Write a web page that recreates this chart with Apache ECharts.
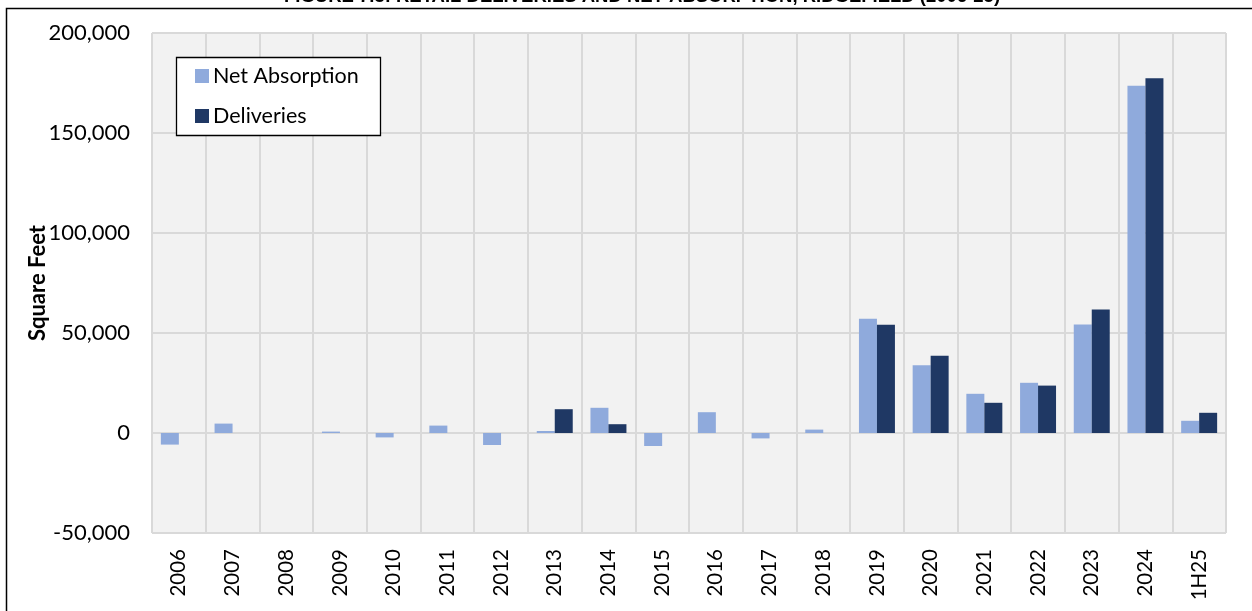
<!DOCTYPE html>
<html>
<head>
<meta charset="utf-8">
<script src="https://cdn.jsdelivr.net/npm/echarts@6/dist/echarts.min.js"></script>
<style>
html,body{margin:0;padding:0;background:#fff;}
#chart{width:1252px;height:611px;}
</style>
</head>
<body>
<div id="chart"></div>
<script>
const titleText = 'FIGURE 7.3: RETAIL DELIVERIES AND NET ABSORPTION, RIDGEFIELD (2006-25)';
const yAxisTitle = 'Square Feet';
const categories = ['2006','2007','2008','2009','2010','2011','2012','2013','2014','2015','2016','2017','2018','2019','2020','2021','2022','2023','2024','1H25'];
const netAbsorption = [-5800, 4700, 0, 700, -2200, 3700, -6000, 1000, 12600, -6500, 10400, -2700, 1700, 57100, 33900, 19600, 25100, 54200, 173600, 6100];
const deliveries = [0, 0, 0, 0, 0, 0, 0, 11900, 4400, 0, 0, 0, 0, 54100, 38600, 15100, 23700, 61700, 177400, 10100];
const yTicks = {min: -50000, max: 200000, interval: 50000};

const FONT = 'Lato, "Liberation Sans", sans-serif';
const chart = echarts.init(document.getElementById('chart'), null, {renderer: 'canvas'});
chart.setOption({
  animation: false,
  backgroundColor: '#ffffff',
  graphic: [
    {type: 'rect', silent: true, shape: {x: 6.5, y: 8.5, width: 1300, height: 700},
      style: {fill: 'none', stroke: '#000', lineWidth: 1.5}, z: 0},
    {type: 'text', silent: true, x: 642, y: 6,
      style: {text: titleText, fill: '#000', font: 'bold 18.5px "Liberation Sans", Arial, sans-serif',
        textAlign: 'center', textVerticalAlign: 'bottom'}},
    {type: 'text', silent: true, x: 38, y: 283, rotation: Math.PI / 2,
      style: {text: yAxisTitle, fill: '#000', font: 'bold 22px Lato, "Liberation Sans", sans-serif',
        textAlign: 'center', textVerticalAlign: 'middle'}},
    {type: 'rect', silent: true, shape: {x: 176.5, y: 57.5, width: 204, height: 78},
      style: {fill: '#fff', stroke: '#000', lineWidth: 1.3}, z: 5}
  ],
  grid: {left: 152, right: 26, top: 33, bottom: 78, show: true, backgroundColor: '#f2f2f2', borderWidth: 0},
  legend: {
    orient: 'vertical', left: 195, top: 65, padding: 0, itemGap: 18,
    itemWidth: 14, itemHeight: 14, icon: 'rect', z: 10,
    textStyle: {fontFamily: FONT, fontSize: 21.5, color: '#000', lineHeight: 22, padding: [0, 0, 0, -1]},
    data: ['Net Absorption', 'Deliveries']
  },
  xAxis: {
    type: 'category', data: categories, boundaryGap: true,
    axisLine: {show: false}, axisTick: {show: false},
    axisLabel: {rotate: 90, margin: 16, fontFamily: FONT, fontSize: 20.5, color: '#000', interval: 0},
    splitLine: {show: true, interval: 0, lineStyle: {color: '#d9d9d9', width: 2}}
  },
  yAxis: {
    type: 'value', min: yTicks.min, max: yTicks.max, interval: yTicks.interval,
    axisLine: {show: false}, axisTick: {show: false},
    axisLabel: {margin: 22, fontFamily: FONT, fontSize: 22, color: '#000',
      formatter: v => v.toLocaleString('en-US')},
    splitLine: {lineStyle: {color: '#d9d9d9', width: 2}}
  },
  series: [
    {name: 'Net Absorption', type: 'bar', data: netAbsorption, barGap: '0%', barCategoryGap: '33%',
      itemStyle: {color: '#8faadc'}},
    {name: 'Deliveries', type: 'bar', data: deliveries, barGap: '0%', barCategoryGap: '33%',
      itemStyle: {color: '#1f3864'}}
  ]
});
</script>
</body>
</html>
